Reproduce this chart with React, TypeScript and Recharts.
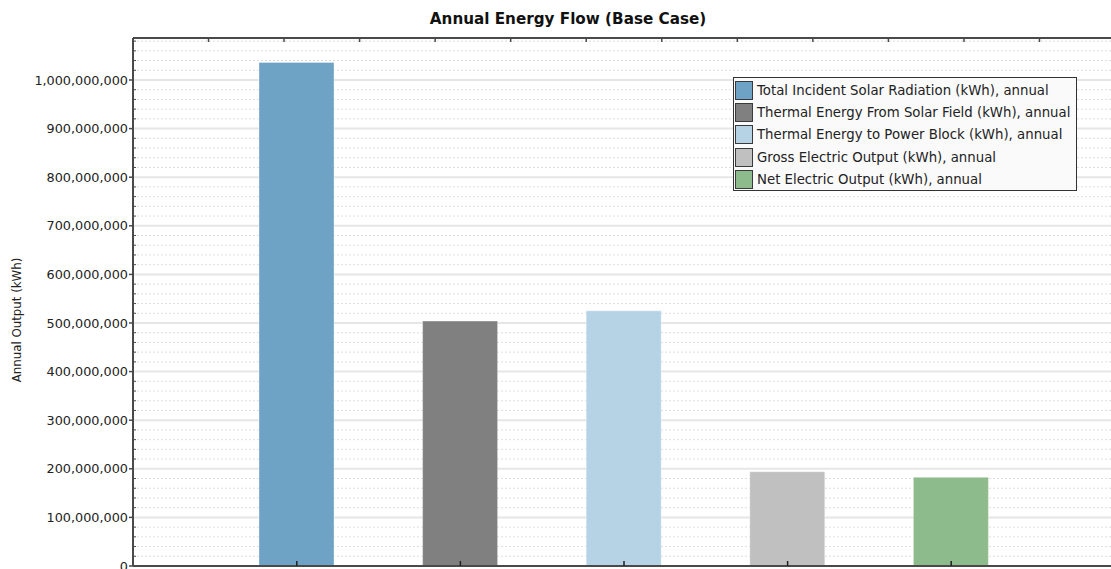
import React from 'react';
import {
  BarChart,
  Bar,
  Cell,
  CartesianGrid,
  XAxis,
  YAxis,
  Label,
} from 'recharts';

const categories = [
  'Total Incident Solar Radiation (kWh), annual',
  'Thermal Energy From Solar Field (kWh), annual',
  'Thermal Energy to Power Block (kWh), annual',
  'Gross Electric Output (kWh), annual',
  'Net Electric Output (kWh), annual',
];
const values = [1036000000, 504000000, 525000000, 194000000, 182500000];
const colors = ['#6fa3c5', '#808080', '#b5d3e5', '#c0c0c0', '#8dbb8b'];

const yMax = 1086400000;
const majorTicks = [0, 100e6, 200e6, 300e6, 400e6, 500e6, 600e6, 700e6, 800e6, 900e6, 1000e6];
const minorTicks = Array.from({ length: 54 }, (_, i) => (i + 1) * 20e6).filter((v) => v % 100e6 !== 0);
// the plot frame's top edge carries 12 evenly spaced inward ticks
const topSlots = [1, 2, 3, 4, 5, 6, 7, 8, 9, 10, 11, 12];

const data = categories.map((name, i) => ({ name, value: values[i] }));
const frameData = topSlots.map((slot) => ({ slot }));

const FONT = '"DejaVu Sans", Verdana, sans-serif';
const AXIS = '#4a4a4a';
const W = 1120;
const H = 586;
const MARGIN = { top: 38, right: 5, left: 0, bottom: 20 };

const fmt = (v: number) => v.toLocaleString('en-US');

export default function App() {
  return (
    <div
      style={{
        position: 'fixed',
        left: 0,
        top: 0,
        width: 1111,
        height: 569,
        overflow: 'hidden',
        background: '#fff',
        fontFamily: FONT,
      }}
    >
      <div
        style={{
          position: 'absolute',
          left: 0,
          top: 10,
          width: 1136,
          textAlign: 'center',
          fontWeight: 'bold',
          fontSize: 15.2,
          color: '#111',
        }}
      >
        Annual Energy Flow (Base Case)
      </div>

      <div style={{ position: 'absolute', left: 0, top: 0 }}>
        <BarChart width={W} height={H} data={data} margin={MARGIN}>
          <CartesianGrid
            horizontalValues={minorTicks}
            vertical={false}
            stroke="#dedede"
            strokeDasharray="2 2"
          />
          <CartesianGrid horizontalValues={majorTicks} vertical={false} stroke="#e6e6e6" strokeWidth={2} />
          <XAxis
            dataKey="name"
            height={20}
            padding={{ left: 82, right: 82 }}
            mirror
            tickSize={5}
            interval={0}
            tickFormatter={() => ''}
            axisLine={{ stroke: AXIS, strokeWidth: 2 }}
            tickLine={{ stroke: '#222', strokeWidth: 1.5 }}
          />
          <YAxis
            width={133}
            domain={[0, yMax]}
            ticks={majorTicks}
            allowDataOverflow
            interval={0}
            tickSize={4}
            tickMargin={1}
            tickFormatter={fmt}
            tick={{ fontSize: 12.8, fill: '#222', fontFamily: FONT }}
            axisLine={{ stroke: AXIS, strokeWidth: 2 }}
            tickLine={{ stroke: AXIS, strokeWidth: 1.5 }}
          >
            <Label
              content={() => (
                <text
                  x={17}
                  y={320}
                  transform="rotate(-90 17 320)"
                  textAnchor="middle"
                  dominantBaseline="central"
                  fontSize={11.8}
                  fill="#222"
                  fontFamily={FONT}
                >
                  Annual Output (kWh)
                </text>
              )}
            />
          </YAxis>
          <Bar dataKey="value" barSize={75} isAnimationActive={false} stroke="#ffffff" strokeOpacity={0.35}>
            {data.map((d, i) => (
              <Cell key={d.name} fill={colors[i]} />
            ))}
          </Bar>
        </BarChart>
      </div>

      {/* frame overlay: top edge ticks and minor ticks on the value axis */}
      <div style={{ position: 'absolute', left: 0, top: 0, pointerEvents: 'none' }}>
        <BarChart width={W} height={H} data={frameData} margin={{ ...MARGIN, left: 133 }}>
          <XAxis
            dataKey="slot"
            orientation="top"
            height={1}
            mirror
            padding={{ left: 37.75, right: 37.75 }}
            interval={0}
            tickSize={4}
            tickFormatter={() => ''}
            axisLine={{ stroke: AXIS, strokeWidth: 2 }}
            tickLine={{ stroke: AXIS, strokeWidth: 1.5 }}
          />
          <YAxis
            mirror
            width={10}
            domain={[0, yMax]}
            allowDataOverflow
            ticks={minorTicks}
            interval={0}
            tickSize={3}
            tickFormatter={() => ''}
            axisLine={false}
            tickLine={{ stroke: AXIS, strokeWidth: 1 }}
          />
        </BarChart>
      </div>

      <div
        style={{
          position: 'absolute',
          left: 733,
          top: 77,
          width: 342,
          height: 111,
          border: '1px solid #333',
          background: '#fafafa',
          fontSize: 13.3,
          color: '#222',
          paddingTop: 1,
          overflow: 'hidden',
        }}
      >
        {categories.map((c, i) => (
          <div key={c} style={{ display: 'flex', alignItems: 'center', height: 22.4 }}>
            <span
              style={{
                display: 'inline-block',
                width: 16,
                height: 17,
                marginLeft: 1,
                marginRight: 4,
                background: colors[i],
                border: '1.5px solid #3a3a3a',
                flex: 'none',
              }}
            />
            <span style={{ whiteSpace: 'nowrap' }}>{c}</span>
          </div>
        ))}
      </div>
    </div>
  );
}
